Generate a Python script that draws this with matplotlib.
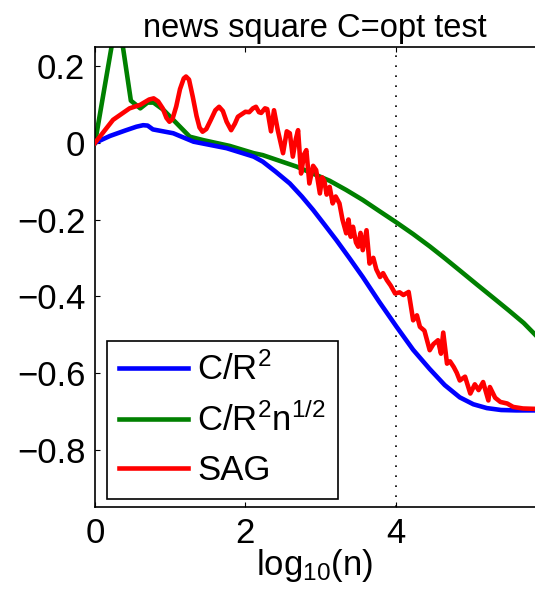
import matplotlib
matplotlib.use('Agg')
import matplotlib.pyplot as plt

plt.rcParams['font.family'] = ['Liberation Sans', 'DejaVu Sans']
plt.rcParams['mathtext.fontset'] = 'custom'
plt.rcParams['mathtext.rm'] = 'Liberation Sans'
plt.rcParams['mathtext.it'] = 'Liberation Sans:italic'
plt.rcParams['mathtext.default'] = 'regular'

# C/R^2 curve
x_blue = [0, 0.2, 0.4, 0.55, 0.64, 0.7, 0.77, 1.04, 1.31, 1.75, 2.11, 2.23, 2.4, 2.59,
          2.75, 2.9, 3.05, 3.21, 3.38, 3.56, 3.78, 4.01, 4.23, 4.45, 4.65, 4.85, 5.03,
          5.21, 5.4, 5.6, 5.85]
y_blue = [0, 0.018, 0.032, 0.042, 0.046, 0.045, 0.035, 0.025, 0.003, -0.014, -0.036,
          -0.049, -0.075, -0.106, -0.14, -0.175, -0.213, -0.254, -0.30, -0.35, -0.415,
          -0.48, -0.54, -0.59, -0.632, -0.664, -0.682, -0.692, -0.697, -0.698, -0.698]

# C/R^2 n^(1/2) curve
x_green = [0, 0.301, 0.477, 0.602, 0.699, 0.778, 0.91, 1.0, 1.26, 1.44, 1.79, 2.11,
           2.23, 2.68, 3.12, 3.34, 3.56, 3.78, 4.01, 4.23, 4.45, 4.65, 4.85, 5.08, 5.3,
           5.5, 5.7, 5.85]
y_green = [0, 0.343, 0.11, 0.09, 0.105, 0.105, 0.086, 0.068, 0.016, 0.007, -0.008,
           -0.027, -0.032, -0.062, -0.099, -0.123, -0.149, -0.178, -0.208, -0.238,
           -0.27, -0.301, -0.333, -0.37, -0.405, -0.437, -0.47, -0.5]

# SAG curve
x_red = [0, 0.24, 0.46, 0.6, 0.72, 0.78, 0.84, 0.9, 0.95, 0.99, 1.03, 1.08, 1.13, 1.18,
         1.21, 1.25, 1.3, 1.35, 1.39, 1.43, 1.48, 1.54, 1.6, 1.65, 1.7, 1.75, 1.81,
         1.86, 1.9, 2.0, 2.05, 2.1, 2.14, 2.18, 2.21, 2.26, 2.29, 2.34, 2.38, 2.43,
         2.5, 2.55, 2.59, 2.63, 2.67, 2.7, 2.74, 2.78, 2.81, 2.85, 2.9, 2.94, 2.99,
         3.02, 3.05, 3.08, 3.12, 3.16, 3.2, 3.25, 3.29, 3.34, 3.37, 3.4, 3.43, 3.47,
         3.5, 3.53, 3.56, 3.61, 3.65, 3.7, 3.74, 3.79, 3.83, 3.88, 3.93, 3.99, 4.05,
         4.1, 4.17, 4.23, 4.28, 4.32, 4.38, 4.45, 4.5, 4.56, 4.6, 4.63, 4.68, 4.72,
         4.77, 4.81, 4.85, 4.92, 4.99, 5.05, 5.1, 5.16, 5.23, 5.25, 5.32, 5.39, 5.48,
         5.56, 5.69, 5.85]
y_red = [0, 0.06, 0.09, 0.099, 0.113, 0.116, 0.108, 0.09, 0.065, 0.055, 0.062, 0.095,
         0.14, 0.168, 0.173, 0.165, 0.12, 0.07, 0.04, 0.029, 0.036, 0.06, 0.085, 0.094,
         0.083, 0.055, 0.033, 0.05, 0.068, 0.081, 0.08, 0.09, 0.094, 0.08, 0.078,
         0.09, 0.088, 0.03, 0.085, 0.033, -0.027, 0.03, 0.025, -0.036, 0.01, 0.033,
         -0.08, -0.03, -0.019, -0.106, -0.06, -0.071, -0.132, -0.09, -0.1, -0.135,
         -0.115, -0.158, -0.14, -0.158, -0.2, -0.236, -0.2, -0.245, -0.219, -0.26,
         -0.271, -0.235, -0.28, -0.228, -0.315, -0.3, -0.33, -0.35, -0.34, -0.358,
         -0.372, -0.393, -0.39, -0.397, -0.389, -0.463, -0.45, -0.48, -0.49, -0.541,
         -0.525, -0.515, -0.55, -0.495, -0.576, -0.57, -0.585, -0.6, -0.62, -0.61,
         -0.654, -0.63, -0.645, -0.624, -0.672, -0.637, -0.665, -0.676, -0.68, -0.689,
         -0.693, -0.694]

x_ticks = [0, 2, 4]
y_ticks = [-0.8, -0.6, -0.4, -0.2, 0, 0.2]
y_tick_labels = ['\u22120.8', '\u22120.6', '\u22120.4', '\u22120.2', '0', '0.2']
labels = ['C/R$^2$', 'C/R$^2$n$^{1/2}$', 'SAG']

fig = plt.figure(figsize=(5.35, 5.94), dpi=100)
ax = fig.add_axes([95/535, 87/594, 440/535, 460/594])

ax.axvline(4, color='k', linestyle=(0, (1, 5)), linewidth=1.2, zorder=1)
ax.plot(x_blue, y_blue, color=(0, 0, 1), linewidth=3.3, label=labels[0], zorder=3)
ax.plot(x_green, y_green, color=(0, 0.5, 0), linewidth=3.3, label=labels[1], zorder=2)
ax.plot(x_red, y_red, color=(1, 0, 0), linewidth=3.3, label=labels[2], zorder=4)

ax.set_xlim(0, 5.85)
ax.set_ylim(-0.95, 0.25)
ax.set_xticks(x_ticks)
ax.set_yticks(y_ticks)
ax.set_yticklabels(y_tick_labels)

for axis in ['top', 'bottom', 'left']:
    ax.spines[axis].set_linewidth(1.2)
ax.spines['right'].set_visible(False)
ax.tick_params(direction='in', length=3.5, width=0.8, labelsize=25, top=True,
               right=False, pad=7)

ax.set_title('news square C=opt test', fontsize=23.5, pad=7)
ax.set_xlabel(r'log$_{10}$(n)', fontsize=25, labelpad=-2)

leg = ax.legend(loc='lower left', bbox_to_anchor=(0.027, 0.017), borderaxespad=0,
                fontsize=25, handlelength=2.0, handletextpad=0.25, labelspacing=0.45,
                borderpad=0.35, fancybox=False, framealpha=1, edgecolor='k')
leg.get_frame().set_linewidth(1.2)

fig.savefig('out.png', dpi=100)
